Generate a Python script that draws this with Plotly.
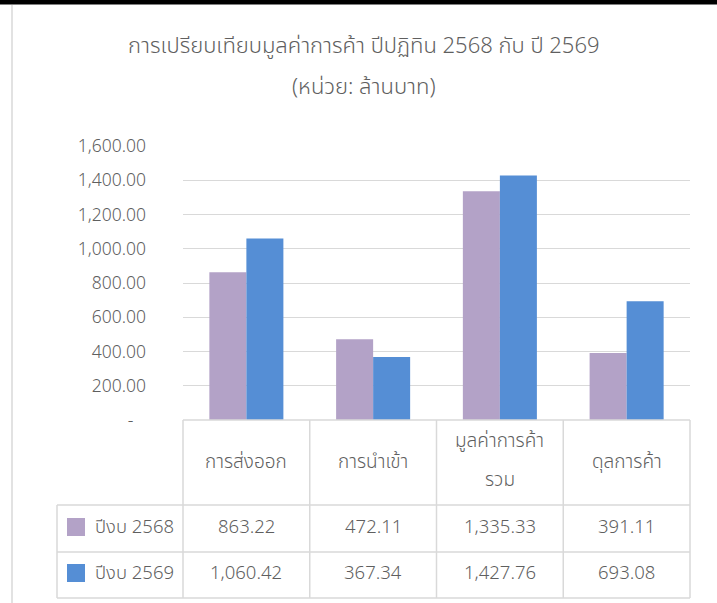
import plotly.graph_objects as go

# ---- data ----
categories = ["การส่งออก", "การนำเข้า", "มูลค่าการค้ารวม", "ดุลการค้า"]
header_labels = ["การส่งออก", "การนำเข้า", "มูลค่าการค้า<br>รวม", "ดุลการค้า"]
series_names = ["ปีงบ 2568", "ปีงบ 2569"]
values_2568 = [863.22, 472.11, 1335.33, 391.11]
values_2569 = [1060.42, 367.34, 1427.76, 693.08]
tick_vals = [0, 200, 400, 600, 800, 1000, 1200, 1400, 1600]
tick_text = ["-\u00a0\u00a0\u2009", "200.00", "400.00", "600.00", "800.00",
             "1,000.00", "1,200.00", "1,400.00", "1,600.00"]
title_lines = ["การเปรียบเทียบมูลค่าการค้า ปีปฏิทิน 2568 กับ ปี 2569", "(หน่วย: ล้านบาท)"]

colors = ["#B3A2C7", "#558ED5"]
TEXT = "#5f5f5f"
GRID = "#D9D9D9"
FONT = "Noto Sans Thai, Leelawadee UI, Tahoma, Noto Sans, sans-serif"
WEIGHT = 300

W, H = 717, 603
L, R, T, B = 183, 690, 146, 420


def px(x):
    return (x - L) / (R - L)


def py(y):
    return (B - y) / (B - T)


def f(size):
    return dict(size=size, color=TEXT, family=FONT, weight=WEIGHT)


x_idx = list(range(len(categories)))
fig = go.Figure()
for name, vals, c in zip(series_names, [values_2568, values_2569], colors):
    fig.add_trace(go.Bar(x=x_idx, y=vals, name=name, marker=dict(color=c, line=dict(width=0)),
                         hovertext=categories))

shapes = []
# top dark band and left border
shapes.append(dict(type="line", xref="paper", yref="paper", x0=px(0), x1=px(W), y0=py(2), y1=py(2),
                   line=dict(color="#000000", width=5)))
shapes.append(dict(type="line", xref="paper", yref="paper", x0=px(12), x1=px(12), y0=py(5), y1=py(H),
                   line=dict(color=GRID, width=1.5)))
# table grid
col_edges = [L + i * (R - L) / len(categories) for i in range(len(categories) + 1)]
row_edges = [420, 505, 552, 598]
legend_left = 57
shapes.append(dict(type="line", xref="paper", yref="paper", x0=px(L), x1=px(R), y0=py(420), y1=py(420),
                   line=dict(color=GRID, width=1.5)))
for yy in row_edges[1:]:
    shapes.append(dict(type="line", xref="paper", yref="paper", x0=px(legend_left), x1=px(R),
                       y0=py(yy), y1=py(yy), line=dict(color=GRID, width=1.5)))
for xx in col_edges:
    shapes.append(dict(type="line", xref="paper", yref="paper", x0=px(xx), x1=px(xx),
                       y0=py(420), y1=py(598), line=dict(color=GRID, width=1.5)))
shapes.append(dict(type="line", xref="paper", yref="paper", x0=px(legend_left), x1=px(legend_left),
                   y0=py(505), y1=py(598), line=dict(color=GRID, width=1.5)))
# legend keys
row_centers = [527, 573]
for c, yc in zip(colors, row_centers):
    shapes.append(dict(type="rect", xref="paper", yref="paper", x0=px(67), x1=px(85),
                       y0=py(yc - 9), y1=py(yc + 9), fillcolor=c, line=dict(width=0)))

ann = []
# title
for line, yy in zip(title_lines, [47, 88]):
    ann.append(dict(text=line, xref="paper", yref="paper", x=px(364), y=py(yy), showarrow=False,
                    xanchor="center", yanchor="middle", font=f(22)))
# header row
for i, lab in enumerate(header_labels):
    parts = lab.split("<br>")
    ys = [462] if len(parts) == 1 else [441, 480]
    for p, yy in zip(parts, ys):
        ann.append(dict(text=p, xref="x", yref="paper", x=i, y=py(yy), showarrow=False,
                        xanchor="center", yanchor="middle", font=f(19)))
# value rows
for name, vals, yc in zip(series_names, [values_2568, values_2569], row_centers):
    ann.append(dict(text=name, xref="paper", yref="paper", x=px(93), y=py(yc), showarrow=False,
                    xanchor="left", yanchor="middle", font=f(18.5)))
    for i, v in enumerate(vals):
        ann.append(dict(text=f"{v:,.2f}", xref="x", yref="paper", x=i, y=py(yc), showarrow=False,
                        xanchor="center", yanchor="middle", font=f(18.5)))

fig.update_layout(
    width=W, height=H,
    margin=dict(l=L, r=W - R, t=T, b=H - B, pad=0),
    paper_bgcolor="white", plot_bgcolor="white",
    barmode="group", bargap=0.416, bargroupgap=0,
    showlegend=False,
    shapes=shapes, annotations=ann,
    font=dict(family=FONT, color=TEXT),
    xaxis=dict(range=[-0.5, 3.5], showticklabels=False, showgrid=False, zeroline=False,
               showline=False, ticks=""),
    yaxis=dict(range=[0, 1600], tickvals=tick_vals, ticktext=tick_text, showgrid=True,
               gridcolor=GRID, gridwidth=1, zeroline=False, showline=False, ticks="",
               ticklabelstandoff=36, tickfont=f(17.5)),
)

fig.write_html("out.html", config={"displayModeBar": False},
               post_script="document.body.style.margin='0';")
